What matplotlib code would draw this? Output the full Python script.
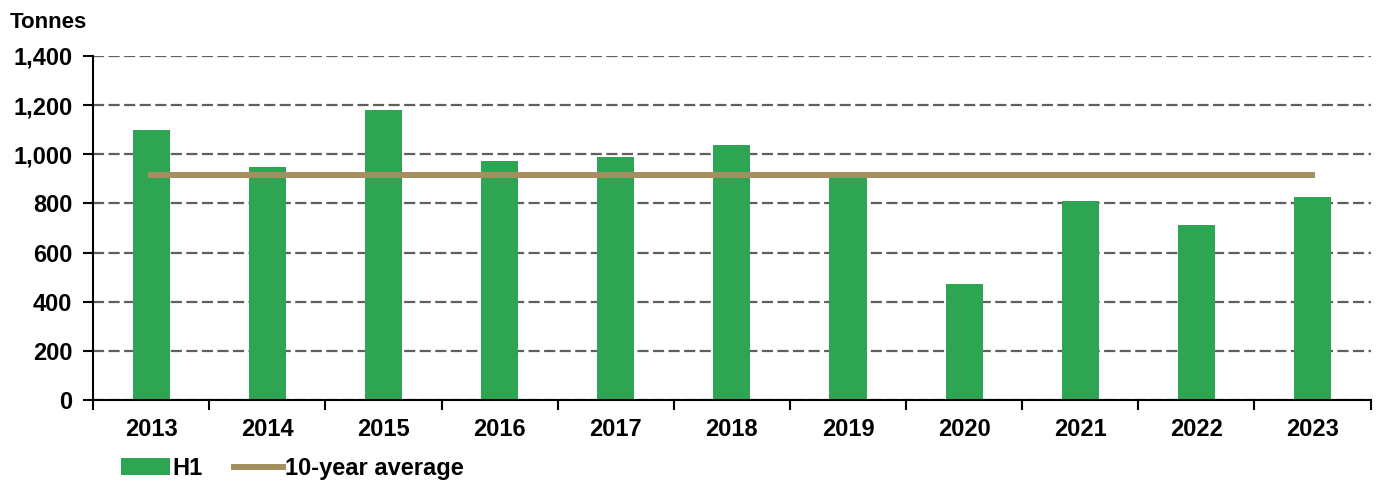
import matplotlib.pyplot as plt
from matplotlib.ticker import FuncFormatter, FixedLocator
import numpy as np

plt.rcParams['font.family'] = ['Liberation Sans', 'DejaVu Sans']

years = ['2013', '2014', '2015', '2016', '2017', '2018', '2019', '2020', '2021', '2022', '2023']
h1 = [1100, 950, 1180, 973, 989, 1038, 910, 472, 810, 712, 825]
ten_year_avg = [915] * len(years)

green = '#2EA553'
tan = '#A48F60'

fig = plt.figure(figsize=(13.9, 4.91), dpi=100)
ax = fig.add_axes([0.067, 0.185, 0.919, 0.701])

x = np.arange(len(years))
bars = ax.bar(x, h1, width=0.32, color=green, label='H1', zorder=2)
line, = ax.plot(x, ten_year_avg, color=tan, lw=4.3, label='10-year average', zorder=3)

ax.set_xlim(-0.5, len(years) - 0.5)
ax.set_ylim(0, 1400)
ax.set_yticks(range(0, 1401, 200))
ax.yaxis.set_major_formatter(FuncFormatter(lambda v, p: f'{int(v):,}'))
ax.yaxis.grid(True, color='#5f5f5f', linestyle=(0, (5, 2)), lw=1.6, zorder=0)
ax.set_axisbelow(True)

ax.set_xticks(x)
ax.set_xticklabels(years)
ax.xaxis.set_minor_locator(FixedLocator(np.arange(-0.5, len(years), 1.0)))
ax.tick_params(axis='x', which='major', length=0, pad=13)
ax.tick_params(axis='x', which='minor', length=7, width=1.5, direction='out')
ax.tick_params(axis='y', length=7, width=1.5, direction='out', pad=8)

for lab in ax.get_xticklabels() + ax.get_yticklabels():
    lab.set_fontsize(17)
    lab.set_fontweight('bold')

for s in ['top', 'right']:
    ax.spines[s].set_visible(False)
for s in ['left', 'bottom']:
    ax.spines[s].set_linewidth(1.5)
    ax.spines[s].set_color('black')

fig.text(0.007, 0.955, 'Tonnes', fontsize=16, fontweight='bold', va='center', ha='left')

leg = ax.legend([bars, line], ['H1', '10-year average'], loc='upper left',
                bbox_to_anchor=(0.022, -0.165), ncol=2, frameon=False,
                prop={'size': 17, 'weight': 'bold'}, handlelength=2.05, handleheight=0.75,
                handletextpad=0.1, columnspacing=1.35, borderaxespad=0, borderpad=0)

fig.savefig('out.png', dpi=100)
